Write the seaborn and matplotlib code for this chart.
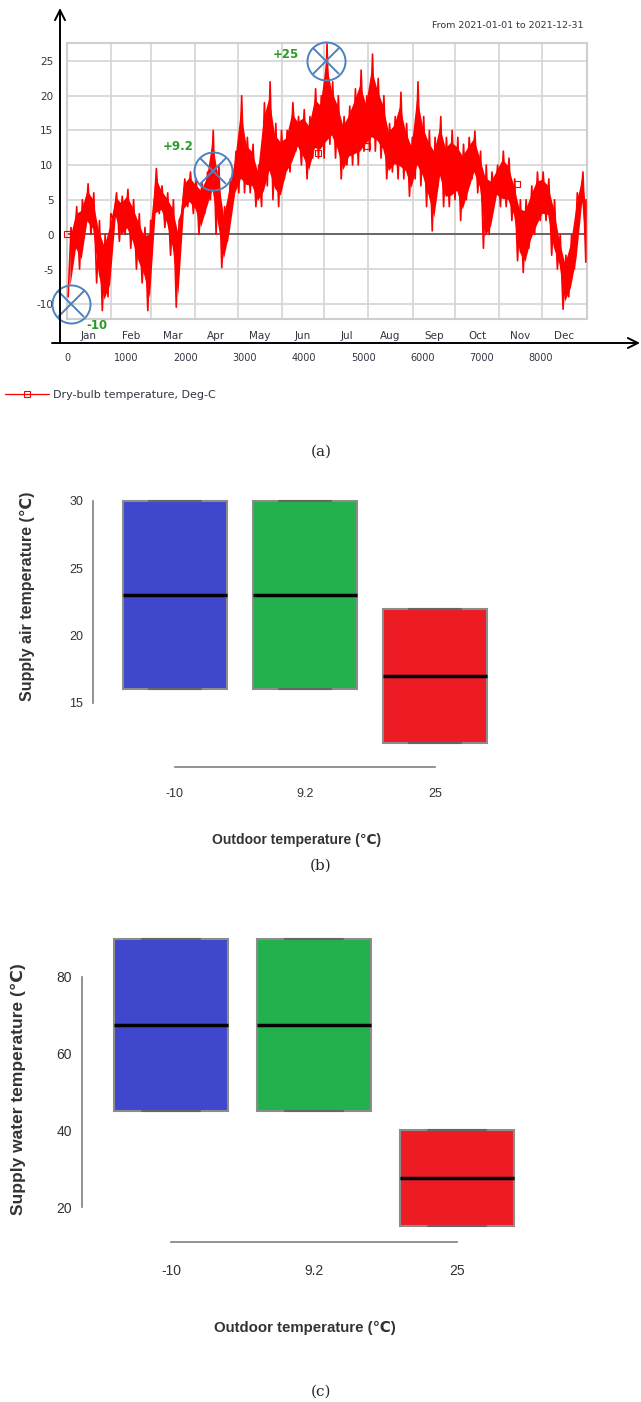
import numpy as np
import pandas as pd
import matplotlib
matplotlib.use("Agg")
import matplotlib.pyplot as plt
import seaborn as sns
from matplotlib.lines import Line2D
from matplotlib.transforms import blended_transform_factory

W, H = 641, 1402

block_len = 96
block_lo = [-9, -3, -5, 1, 0, -7, -11, -9, 2, -1, 0, -2, -5, -7, -11, 2, 3, 1, -3, -10.5,
            3, 4, 3, 0, 3, 5, 0, -4.8, -1, 5, 6, 6, 6, 4, 4, 7, 5, 4, 8, 9,
            12, 10, 8, 11, 11, 11, 13, 11, 8, 10, 10, 10, 12, 12, 12, 11, 8, 9, 8, 8,
            5.5, 8, 7, 4, 0.5, 7, 4, 4, 5, 2, 5, 8, 6, -2, 0, 5, 4, 4, 2, -3.8,
            -5.5, -2, 0, 2, 2, -3, -5, -10.8, -9, -5, 4, -4]
block_hi = [1, 4, 5, 7.3, 6, 2, 0, 3, 6, 5.5, 6.5, 5, 3, 1, 2, 9.5, 7, 6, 5, 2,
            8, 9, 8, 7.5, 9, 15, 10, 4, 8, 12, 20, 14, 13, 10, 19, 22, 16, 15, 15, 19,
            17, 18, 17, 21, 20, 27.5, 22, 20, 17, 18.5, 21, 23.7, 20, 26, 22.5, 20, 16, 17, 20.5, 16,
            14, 22, 17, 15, 14, 17, 14, 15, 14, 13, 14, 14.9, 12, 10, 9, 10, 12, 11, 8, 5,
            5, 7, 9, 9, 8, 5, 0, -3, 0, 6, 9, 5]
months = ["Jan", "Feb", "Mar", "Apr", "May", "Jun", "Jul", "Aug", "Sep", "Oct", "Nov", "Dec"]
month_starts = [0, 744, 1416, 2160, 2880, 3624, 4344, 5088, 5832, 6552, 7296, 8016, 8760]
hour_ticks = [0, 1000, 2000, 3000, 4000, 5000, 6000, 7000, 8000]
marked_hours = [70, 2470, 4375]
marked_temps = [-10, 9.2, 25]
marked_labels = ["-10", "+9.2", "+25"]
square_hours = [0, 4237, 5060, 7590]
square_temps = [0, 11.8, 12.8, 7.2]

# (b), (c) box summaries per outdoor temperature
outdoor = ["-10", "9.2", "25"]
air_min = [16, 16, 12]
air_med = [23, 23, 17]
air_max = [30, 30, 22]
water_min = [45, 45, 15]
water_med = [67.5, 67.5, 27.5]
water_max = [90, 90, 40]
box_colors = ["#3F48CC", "#22B14C", "#ED1C24"]

sans = ["Liberation Sans", "DejaVu Sans"]


def add_ax(left, top, right, bottom):
    return fig.add_axes([left / W, 1 - bottom / H, (right - left) / W, (bottom - top) / H])


def box_frame(col, lo, med, hi):
    rows = []
    for g, a, m, b in zip(outdoor, lo, med, hi):
        for v in [a, a, m, b, b]:
            rows.append({"outdoor": g, col: v})
    return pd.DataFrame(rows)


sns.set_style("white")
plt.rcParams["axes.unicode_minus"] = False
fig = plt.figure(figsize=(W / 100, H / 100), dpi=100)

# ---------------- (a) ----------------
hours, temps = [], []
for i, (lo, hi) in enumerate(zip(block_lo, block_hi)):
    hours += [block_len * i + 20, block_len * i + 68]
    temps += [lo, hi]
df_a = pd.DataFrame({"hour": np.minimum(hours, 8759), "temp": temps})
centers = np.minimum(np.arange(len(block_lo)) * block_len + 48, 8759)
lo_arr, hi_arr = np.array(block_lo), np.array(block_hi)
core_lo = lo_arr + 0.15 * (hi_arr - lo_arr)
core_hi = hi_arr - 0.15 * (hi_arr - lo_arr)

ax = add_ax(67, 43, 587, 319)
ax.set_xticks(month_starts[1:-1])
ax.set_yticks(range(-10, 30, 5))
ax.grid(True, color="#d4d4d4", lw=1.2)
ax.set_axisbelow(True)
ax.axhline(0, color="#666666", lw=1.4, zorder=1)
ax.fill_between(centers, core_lo, core_hi, color="red", lw=0, zorder=2)
sns.lineplot(data=df_a, x="hour", y="temp", color="red", lw=1.2,
             estimator=None, sort=False, ax=ax, zorder=3)
ax.plot(square_hours, square_temps, "s", ms=4, mfc="none", mec="red", mew=0.8,
        clip_on=False, zorder=4)
ax.plot(marked_hours, marked_temps, "o", ms=27.4, mfc="none", mec="#4f81bd",
        mew=1.4, clip_on=False, zorder=5)
ax.plot(marked_hours, marked_temps, "x", ms=19.4, mec="#4f81bd", mew=1.4,
        clip_on=False, zorder=5)
label_offsets = [(26, -22), (-35, 24), (-40, 7)]
for h, t, s, (dx, dy) in zip(marked_hours, marked_temps, marked_labels, label_offsets):
    ax.annotate(s, (h, t), xytext=(dx * 0.72, dy * 0.72), textcoords="offset points",
                ha="center", va="center", fontsize=8.5, fontweight="bold",
                color="#2a9a2a", annotation_clip=False)
ax.set_xlim(0, 8776)
ax.set_ylim(-12.2, 27.6)
ax.tick_params(length=0, labelbottom=False, labelleft=False)
ax.set_xlabel("")
ax.set_ylabel("")
for sp in ax.spines.values():
    sp.set_color("#cfcfcf")
    sp.set_linewidth(1.5)

# y axis with arrow
axy = add_ax(60, 8, 61, 343)
axy.set_ylim(25 - (343 - 61) / 6.95, 25 + (61 - 8) / 6.95)
axy.set_yticks(range(-10, 30, 5))
axy.set_xticks([])
axy.tick_params(axis="y", direction="inout", length=6.5, width=1, pad=1.5,
                labelsize=7.5, labelcolor="#333344")
for sp in axy.spines.values():
    sp.set_visible(False)
axy.patch.set_alpha(0)
axy.annotate("", xy=(0, 1), xytext=(0, 0), xycoords="axes fraction",
             arrowprops=dict(arrowstyle="->", color="black", lw=1.4, mutation_scale=18,
                             shrinkA=0, shrinkB=0))

# x axis with arrow
axx = add_ax(52, 342, 640, 343)
axx.set_xlim((52 - 67) / 0.05925, (640 - 67) / 0.05925)
axx.set_xticks(hour_ticks)
axx.set_xticks(month_starts, minor=True)
axx.set_yticks([])
axx.tick_params(axis="x", which="major", direction="out", length=4.3, width=1,
                pad=3, labelsize=7, labelcolor="#333344")
axx.tick_params(axis="x", which="minor", direction="in", length=3.5, width=1)
for sp in axx.spines.values():
    sp.set_visible(False)
axx.patch.set_alpha(0)
axx.annotate("", xy=(1, 0), xytext=(0, 0), xycoords="axes fraction",
             arrowprops=dict(arrowstyle="->", color="black", lw=1.4, mutation_scale=18,
                             shrinkA=0, shrinkB=0))
btr = blended_transform_factory(axx.transData, axx.transAxes)
for i, m in enumerate(months):
    mid = (month_starts[i] + month_starts[i + 1]) / 2
    axx.annotate(m, (mid, 0), xycoords=btr, xytext=(0, 5), textcoords="offset points",
                 ha="center", va="center", fontsize=7.5, color="#333344")

fig.text(583 / W, 1 - 26 / H, "From 2021-01-01 to 2021-12-31", ha="right", va="center",
         fontsize=6.8, color="#333344")
handle = Line2D([], [], color="red", lw=0.9, marker="s", ms=4, mfc="none", mew=0.8)
fig.legend([handle], ["Dry-bulb temperature, Deg-C"], loc="center left",
           bbox_to_anchor=(5 / W, 1 - 395 / H), frameon=False, fontsize=8,
           handlelength=4.0, handletextpad=0.3, borderpad=0, borderaxespad=0,
           labelcolor="#333344")
fig.text(321 / W, 1 - 452 / H, "(a)", ha="center", va="center", family="DejaVu Serif",
         fontsize=11)


# ---------------- (b) and (c) ----------------
def box_panel(axp, df, col, ybounds, yticks, xlim, ylim, tsize, xsize, ysize, ylabel,
              xlab_xy, ylab_xy, xpad):
    sns.boxplot(data=df, x="outdoor", y=col, hue="outdoor", order=outdoor,
                hue_order=outdoor, palette=box_colors, saturation=1, width=0.8,
                linecolor="#8c8c8c", linewidth=1.5,
                medianprops={"color": "black", "linewidth": 2.5},
                capprops={"color": "#666666"}, fliersize=0, legend=False, ax=axp)
    axp.set_xlim(*xlim)
    axp.set_ylim(*ylim)
    axp.set_yticks(yticks)
    sns.despine(ax=axp)
    axp.spines["left"].set_bounds(*ybounds)
    axp.spines["bottom"].set_bounds(0, 2)
    for s in ["left", "bottom"]:
        axp.spines[s].set_color("#808080")
        axp.spines[s].set_linewidth(1.2)
    axp.tick_params(axis="both", length=4.3, width=1.1, color="#808080",
                    labelsize=tsize, labelcolor="#333333")
    axp.tick_params(axis="x", pad=xpad)
    axp.tick_params(axis="y", pad=2.9)
    for lab in axp.get_xticklabels() + axp.get_yticklabels():
        lab.set_family(sans)
    axp.set_xlabel("Outdoor temperature (℃)", family=sans, fontweight="bold",
                   fontsize=xsize, color="#333333")
    axp.set_ylabel(ylabel, family=sans, fontweight="bold", fontsize=ysize,
                   color="#333333")
    axp.xaxis.set_label_coords(xlab_xy[0] / W, 1 - xlab_xy[1] / H, transform=fig.transFigure)
    axp.yaxis.set_label_coords(ylab_xy[0] / W, 1 - ylab_xy[1] / H, transform=fig.transFigure)
    axp.xaxis.label.set_va("center")
    axp.yaxis.label.set_va("center")


axb = add_ax(93, 494, 500, 767)
box_panel(axb, box_frame("air", air_min, air_med, air_max), "air", (15, 30),
          [15, 20, 25, 30], ((93 - 175) / 130, (500 - 175) / 130),
          (30 - (767 - 501) / 13.46, 30.5), 9, 10, 11.5,
          "Supply air temperature (℃)", (297, 840), (27, 596), 11)
fig.text(321 / W, 1 - 866 / H, "(b)", ha="center", va="center", family="DejaVu Serif",
         fontsize=11)

axc = add_ax(82, 935, 530, 1242)
box_panel(axc, box_frame("water", water_min, water_med, water_max), "water", (20, 80),
          [20, 40, 60, 80], ((82 - 171) / 143, (530 - 171) / 143),
          (80 - (1242 - 977) / 3.835, 80 + (977 - 935) / 3.835), 10, 10.8, 12.5,
          "Supply water temperature (℃)", (305, 1328), (18, 1089), 11.5)
fig.text(321 / W, 1 - 1392 / H, "(c)", ha="center", va="center", family="DejaVu Serif",
         fontsize=11)

fig.savefig("out.png", dpi=100)
